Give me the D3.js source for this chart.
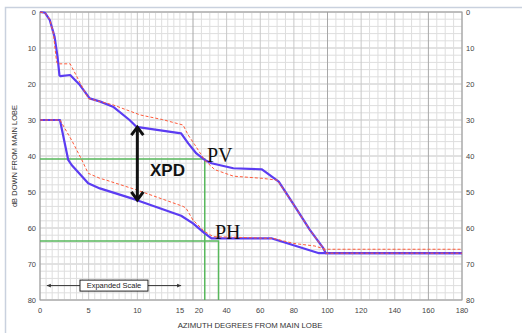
<!DOCTYPE html>
<html>
<head>
<meta charset="utf-8">
<script src="https://cdn.jsdelivr.net/npm/d3@7"></script>
<style>
body { margin: 0; background: #fff; }
text { font-family: "Liberation Sans", Arial, sans-serif; }
</style>
</head>
<body>
<div id="chart"></div>
<script>
// Variables
var width = 522,
	height = 333,
	margin = {left: 40, right: 60, top: 12, bottom: 33};

// envelopes, [azimuth deg, dB down]
var pvBlue = [[0,0],[0.5,0.2],[1,2.2],[1.5,6.9],[1.8,12.4],[2.0,17.6],[2.1,17.8],[3.1,17.5],
	[4.1,20.3],[5.1,24],[6.2,24.9],[7.5,26.3],[9.2,30],[9.9,31.9],[14.5,33.7],[16.6,36.5],
	[22,39.3],[27,41.1],[31,42],[44,43.4],[61,43.7],[71,47.1],[80,53.6],[89.6,60.6],
	[97.5,65.6],[99,67],[180,67]];
var pvRed = [[0,0],[0.5,0.3],[1,2],[1.37,5.9],[1.7,13.8],[1.8,14.4],[3.1,14.4],[4.95,24],
	[6.2,24.9],[7.5,25.8],[10.3,28.6],[12.6,29.9],[14.7,31.4],[16.6,34.2],[21.1,36.9],
	[27,41.2],[33,43.8],[44,45.6],[61,46.2],[70,46.7],[72,48],[80,53.6],[89.6,60.6],
	[97.5,65.6],[99,67],[180,67]];
var phBlue = [[0,30],[2.05,30],[2.4,34.6],[2.9,41.1],[3.25,42.5],[4.95,47.6],[6.15,49],
	[9.9,52.2],[14.5,56.6],[20,58.7],[27,61.5],[31,62.9],[67,62.9],[95,67],[180,67]];
var phRed = [[0,30],[2.05,30],[3.25,35.6],[4.3,41.1],[4.95,44.8],[6.15,46.2],[6.8,46.7],
	[9.9,49.4],[14.7,54],[15.05,54.5],[20,57.8],[27,61],[32,62.4],[68,62.9],[80,64.3],
	[92.5,65],[98.5,65.9],[180,65.9]];

var pvGuide = [27, 40.8],   // deg, dB
	phGuide = [35.2, 63.6],
	xpdArrow = [10, 32, 52.2], // deg, top dB, bottom dB
	expanded = [0.7, 14.5, 76];

var xTicks = [0, 5, 10, 15, 20, 40, 60, 80, 100, 120, 140, 160, 180],
	yTicks = [0, 10, 20, 30, 40, 50, 60, 70, 80];

// piecewise azimuth scale: 0-15 expanded, then 20-180
var x = d3.scaleLinear()
	.domain([0, 15, 20, 180])
	.range([40, 186, 193, 462]);
var y = d3.scaleLinear()
	.domain([0, 80])
	.range([12, 300]);

var svg = d3.select("#chart").append("svg")
	.attr("width", width)
	.attr("height", height);

// outer frame
svg.append("path")
	.attr("d", "M5.5," + height + "V7.5H" + width)
	.attr("fill", "none")
	.attr("stroke", "#c9d1de")
	.attr("stroke-width", 1.5);

// grid
var grid = svg.append("g").attr("class", "grid");
var hLines = d3.range(0, 81, 2);
grid.selectAll("line.h").data(hLines).enter().append("line")
	.attr("x1", x(0)).attr("x2", x(180))
	.attr("y1", function(d) { return y(d); }).attr("y2", function(d) { return y(d); })
	.attr("stroke", function(d) { return d % 10 == 0 ? "#c4c4c4" : "#dedede"; })
	.attr("stroke-width", 1);

var vLines = d3.range(0, 15.01, 0.625).concat(d3.range(20, 181, 5));
grid.selectAll("line.v").data(vLines).enter().append("line")
	.attr("y1", y(0)).attr("y2", y(80))
	.attr("x1", function(d) { return x(d); }).attr("x2", function(d) { return x(d); })
	.attr("stroke", function(d) {
		if (d == 20 || d == 100 || d == 160) return "#a8a8a8";
		if ((d < 15 && d % 5 == 0) || (d > 20 && d % 20 == 0)) return "#c8c8c8";
		return "#dedede";
	})
	.attr("stroke-width", 1);

svg.append("rect")
	.attr("x", x(0)).attr("y", y(0))
	.attr("width", x(180) - x(0)).attr("height", y(80) - y(0))
	.attr("fill", "none")
	.attr("stroke", "#9a9a9a");

// tick labels
svg.selectAll("text.yl").data(yTicks).enter().append("text")
	.attr("x", 36).attr("y", function(d) { return y(d) + 2.5; })
	.attr("text-anchor", "end")
	.attr("font-size", 7.5).attr("fill", "#444")
	.text(function(d) { return d; });
svg.selectAll("text.yr").data(yTicks).enter().append("text")
	.attr("x", 466).attr("y", function(d) { return y(d) + 2.5; })
	.attr("font-size", 7.5).attr("fill", "#444")
	.text(function(d) { return d; });
svg.selectAll("text.xl").data(xTicks).enter().append("text")
	.attr("x", function(d) {
		if (d == 15) return x(d) - 6;
		if (d == 20) return x(d) + 6;
		return x(d);
	})
	.attr("y", 313)
	.attr("text-anchor", "middle")
	.attr("font-size", 7.5).attr("fill", "#444")
	.text(function(d) { return d; });

svg.append("text")
	.attr("x", 250).attr("y", 328)
	.attr("text-anchor", "middle")
	.attr("font-size", 7.8).attr("fill", "#333")
	.text("AZIMUTH DEGREES FROM MAIN LOBE");
svg.append("text")
	.attr("transform", "translate(17," + ((y(0) + y(80)) / 2) + ") rotate(-90)")
	.attr("text-anchor", "middle")
	.attr("font-size", 7.5).attr("fill", "#333")
	.text("dB DOWN FROM MAIN LOBE");

// green guides
var guides = svg.append("g").attr("fill", "none").attr("stroke", "#58b85c").attr("stroke-width", 1.5);
[pvGuide, phGuide].forEach(function(g) {
	guides.append("path")
		.attr("d", "M" + x(0) + "," + y(g[1]) + "H" + x(g[0]) + "V" + y(80));
});

// curves
var line = d3.line()
	.x(function(d) { return x(d[0]); })
	.y(function(d) { return y(d[1]); });

[phBlue, pvBlue].forEach(function(s) {
	svg.append("path").datum(s)
		.attr("d", line)
		.attr("fill", "none")
		.attr("stroke", "#5b3cf2")
		.attr("stroke-width", 2.2)
		.attr("stroke-linejoin", "round");
});
[phRed, pvRed].forEach(function(s) {
	svg.append("path").datum(s)
		.attr("d", line)
		.attr("fill", "none")
		.attr("stroke", "#ff5a3a")
		.attr("stroke-width", 1)
		.attr("stroke-dasharray", "3,2");
});

// XPD arrow
var ax = x(xpdArrow[0]), ay1 = y(xpdArrow[1]), ay2 = y(xpdArrow[2]);
var arrow = svg.append("g").attr("fill", "none").attr("stroke", "#111").attr("stroke-width", 3);
arrow.append("line").attr("x1", ax).attr("x2", ax).attr("y1", ay1 + 1).attr("y2", ay2 - 1);
arrow.append("path").attr("d", "M" + (ax - 6) + "," + (ay1 + 8) + "L" + ax + "," + ay1 + "L" + (ax + 6) + "," + (ay1 + 8));
arrow.append("path").attr("d", "M" + (ax - 6) + "," + (ay2 - 8) + "L" + ax + "," + ay2 + "L" + (ax + 6) + "," + (ay2 - 8));

svg.append("text")
	.attr("x", 150).attr("y", 176)
	.attr("font-size", 17).attr("font-weight", "bold").attr("fill", "#111")
	.text("XPD");

// PV / PH labels
svg.append("text")
	.attr("x", 207).attr("y", 162)
	.style("font-family", "'Liberation Serif', 'Times New Roman', serif")
	.attr("font-size", 20).attr("fill", "#111")
	.text("PV");
svg.append("text")
	.attr("x", 215).attr("y", 239)
	.style("font-family", "'Liberation Serif', 'Times New Roman', serif")
	.attr("font-size", 20).attr("fill", "#111")
	.text("PH");

// expanded scale marker
var ey = y(expanded[2]), ex1 = x(expanded[0]), ex2 = x(expanded[1]);
svg.append("line")
	.attr("x1", ex1).attr("x2", ex2).attr("y1", ey).attr("y2", ey)
	.attr("stroke", "#333").attr("stroke-width", 1);
svg.append("path")
	.attr("d", "M" + ex1 + "," + ey + "l4,-1.8v3.6z M" + ex2 + "," + ey + "l-4,-1.8v3.6z")
	.attr("fill", "#333");
var ecx = (ex1 + ex2) / 2;
svg.append("rect")
	.attr("x", ecx - 34).attr("y", ey - 5.5)
	.attr("width", 68).attr("height", 11)
	.attr("fill", "#fff").attr("stroke", "#222").attr("stroke-width", 1);
svg.append("text")
	.attr("x", ecx).attr("y", ey + 2.6)
	.attr("text-anchor", "middle")
	.attr("font-size", 7.5).attr("fill", "#222")
	.text("Expanded Scale");
</script>
</body>
</html>
